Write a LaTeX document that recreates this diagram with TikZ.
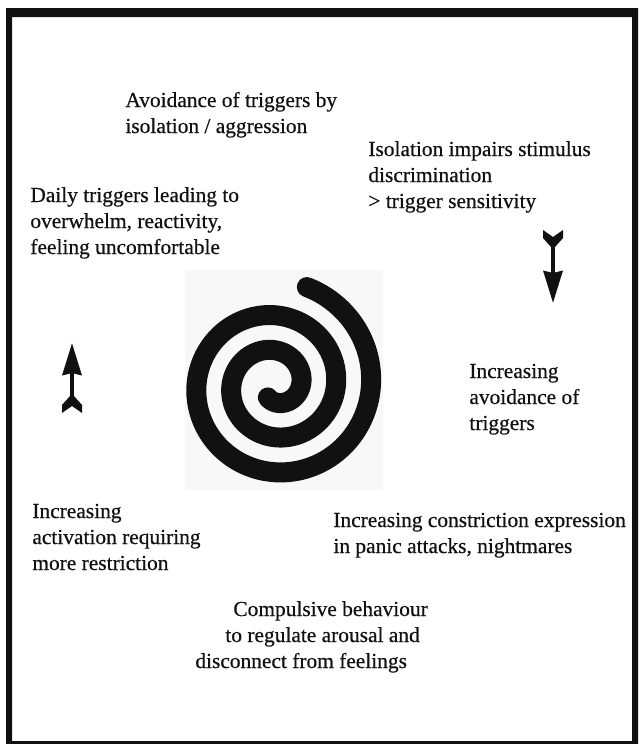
\documentclass[tikz,border=0pt]{standalone}
\usepackage{fontspec}
\setmainfont{Liberation Serif}[FakeBold=0.5]
\usetikzlibrary{arrows.meta,positioning}
\definecolor{ink}{HTML}{111111}
\definecolor{paper}{HTML}{F8F8F8}
\tikzset{
  lbl/.style={font=\fontsize{10.7}{13}\selectfont, align=left, anchor=base west,
              inner sep=0pt, text=ink},
  spiral/.style={line width=10pt, draw=ink, line cap=round},
  flow/.style={line width=2pt, draw=ink, -{Stealth[length=16pt, width=9.5pt, inset=1pt]}},
  fletch/.style={fill=ink}
}
\begin{document}
\begin{tikzpicture}[x=0.5pt,y=-0.5pt]
  \useasboundingbox (0,0) rectangle (638,744);
  % frame
  \fill[ink, even odd rule] (6,8) rectangle (638,744) (12,17) rectangle (632,741);

  % spiral
  \fill[paper] (185,270) rectangle (383,490);
  \draw[spiral] plot[domain=-120:792, samples=240, smooth]
      ({275+(26+0.09722*\x)*cos(\x)}, {385-(26+0.09722*\x)*sin(\x)});

  % texts round the cycle (placed by their last line)
  \node[lbl] (avoid) at (125,133) {Avoidance of triggers by\\isolation / aggression};
  \node[lbl] (isol) at (368,208) {Isolation impairs stimulus\\discrimination\\> trigger sensitivity};
  \node[lbl] (daily) at (30,254) {Daily triggers leading to\\overwhelm, reactivity,\\feeling uncomfortable};
  \node[lbl] (incavoid) at (469,430) {Increasing\\avoidance of\\triggers};
  \node[lbl] (incact) at (32,570) {Increasing\\activation requiring\\more restriction};
  \node[lbl] (constr) at (333,553) {Increasing constriction expression\\in panic attacks, nightmares};
  \node[lbl] (compul) at (195,668) {\hspace*{19pt}Compulsive behaviour\\\hspace*{15pt}to regulate arousal and\\disconnect from feelings};

  % arrows
  \coordinate (dntail) at (553,230);
  \coordinate (dntip) at (553,303);
  \coordinate (uptail) at (72,413);
  \coordinate (uptip) at (72,343);
  \fill[fletch] (dntail) ++(-10,0) -- ++(10,7) -- ++(10,-7) -- ++(0,8) -- ++(-8,9) -- ++(-4,0) -- ++(-8,-9) -- cycle;
  \fill[fletch] (uptail) ++(-10,0) -- ++(10,-7) -- ++(10,7) -- ++(0,-8) -- ++(-8,-9) -- ++(-4,0) -- ++(-8,9) -- cycle;
  \draw[flow] ([yshift=-5pt]dntail) -- (dntip);
  \draw[flow] ([yshift=5pt]uptail) -- (uptip);
\end{tikzpicture}
\end{document}
